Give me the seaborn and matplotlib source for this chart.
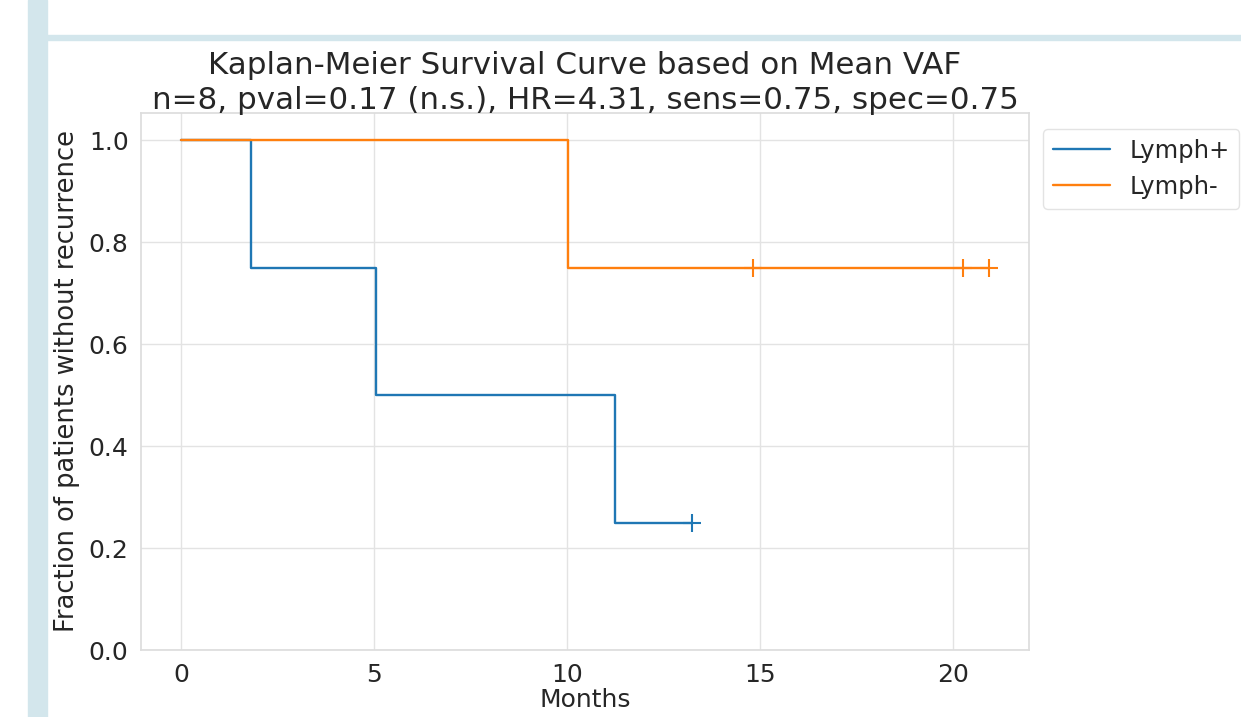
import matplotlib
matplotlib.use("Agg")
import matplotlib.pyplot as plt
import seaborn as sns
import pandas as pd
from matplotlib.patches import Rectangle

# ---- data ----
groups = ["Lymph+", "Lymph-"]
pos_time = [0.0, 1.8, 5.05, 11.25, 13.25]
pos_surv = [1.0, 0.75, 0.50, 0.25, 0.25]
pos_censor_time = [13.25]
pos_censor_surv = [0.25]
neg_time = [0.0, 10.02, 20.93]
neg_surv = [1.0, 0.75, 0.75]
neg_censor_time = [14.82, 20.26, 20.93]
neg_censor_surv = [0.75, 0.75, 0.75]
x_ticks = [0, 5, 10, 15, 20]
y_ticks = [0.0, 0.2, 0.4, 0.6, 0.8, 1.0]
title = ("Kaplan-Meier Survival Curve based on Mean VAF\n"
         "n=8, pval=0.17 (n.s.), HR=4.31, sens=0.75, spec=0.75")

sns.set_theme(style="whitegrid")
plt.rcParams["font.family"] = ["DejaVu Sans"]

W, H = 1241, 717
fig = plt.figure(figsize=(W / 100, H / 100), dpi=100)
fig.patch.set_facecolor("white")

# screenshot frame decorations
frame_col = "#d3e6ec"
fig.add_artist(Rectangle((28 / W, 0), 19 / W, 1, transform=fig.transFigure,
                         color=frame_col, zorder=0))
fig.add_artist(Rectangle((47 / W, 1 - 40 / H), 1 - 47 / W, 5 / H,
                         transform=fig.transFigure, color=frame_col, zorder=0))

ax = fig.add_axes([141 / W, 1 - 650 / H, (1029 - 141) / W, (650 - 113) / H])

df_pos = pd.DataFrame({"Months": pos_time, "surv": pos_surv})
df_neg = pd.DataFrame({"Months": neg_time, "surv": neg_surv})
blue, orange = sns.color_palette("tab10")[0], sns.color_palette("tab10")[1]

sns.lineplot(data=df_pos, x="Months", y="surv", drawstyle="steps-post",
             color=blue, linewidth=1.7, label=groups[0], ax=ax)
sns.lineplot(data=df_neg, x="Months", y="surv", drawstyle="steps-post",
             color=orange, linewidth=1.7, label=groups[1], ax=ax)
sns.scatterplot(x=pos_censor_time, y=pos_censor_surv, marker="+", s=170,
                color=blue, linewidth=1.5, legend=False, ax=ax, zorder=3)
sns.scatterplot(x=neg_censor_time, y=neg_censor_surv, marker="+", s=170,
                color=orange, linewidth=1.5, legend=False, ax=ax, zorder=3)

ax.set_xlim(-1.04, 21.97)
ax.set_ylim(0, 1.053)
ax.set_xticks(x_ticks)
ax.set_yticks(y_ticks)
ax.set_xticklabels([str(t) for t in x_ticks])
ax.set_yticklabels([f"{t:.1f}" for t in y_ticks])
ax.tick_params(labelsize=18, colors="#262626", pad=3)
for s in ax.spines.values():
    s.set_color("#dddddd")
ax.grid(color="#e3e3e3", linewidth=1.0)
ax.set_xlabel("Months", fontsize=18, labelpad=1)
ax.set_ylabel("Fraction of patients without recurrence", fontsize=18.5,
              labelpad=6)
ax.set_title(title, fontsize=22.3, linespacing=1.25, pad=3)

leg = ax.legend(loc="upper left", bbox_to_anchor=(1043 / W, 1 - 129 / H),
                bbox_transform=fig.transFigure, borderaxespad=0, fontsize=17.5,
                frameon=True, handlelength=2.35, labelspacing=0.5)
leg.get_frame().set_edgecolor("#dddddd")

fig.savefig("out.png", dpi=100)
